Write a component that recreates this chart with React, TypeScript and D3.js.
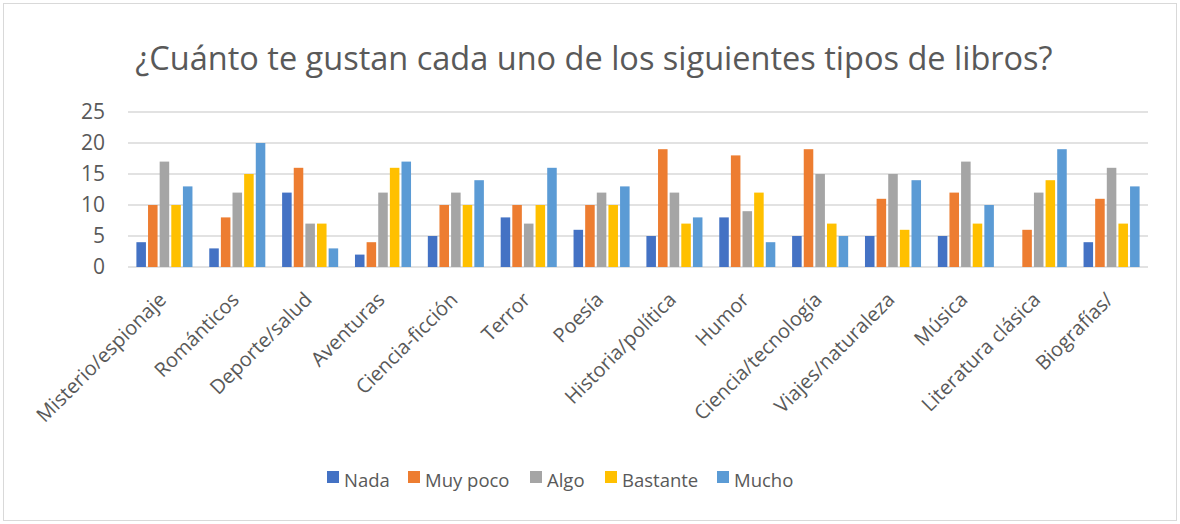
import React from "react";
import * as d3 from "d3";

const categories = [
  "Misterio/espionaje",
  "Románticos",
  "Deporte/salud",
  "Aventuras",
  "Ciencia-ficción",
  "Terror",
  "Poesía",
  "Historia/política",
  "Humor",
  "Ciencia/tecnología",
  "Viajes/naturaleza",
  "Música",
  "Literatura clásica",
  "Biografías/",
];
const seriesNames = ["Nada", "Muy poco", "Algo", "Bastante", "Mucho"];
const nada = [4, 3, 12, 2, 5, 8, 6, 5, 8, 5, 5, 5, 0, 4];
const muyPoco = [10, 8, 16, 4, 10, 10, 10, 19, 18, 19, 11, 12, 6, 11];
const algo = [17, 12, 7, 12, 12, 7, 12, 12, 9, 15, 15, 17, 12, 16];
const bastante = [10, 15, 7, 16, 10, 10, 10, 7, 12, 7, 6, 7, 14, 7];
const mucho = [13, 20, 3, 17, 14, 16, 13, 8, 4, 5, 14, 10, 19, 13];
const yTicks = [0, 5, 10, 15, 20, 25];
const colors = ["#4472C4", "#ED7D31", "#A5A5A5", "#FFC000", "#5B9BD5"];
const title = "¿Cuánto te gustan cada uno de los siguientes tipos de libros?";

const W = 1180;
const H = 524;
const FONT = "'Open Sans', sans-serif";
const TXT = "#595959";

export default function App() {
  const allSeries = [nada, muyPoco, algo, bastante, mucho];
  const x0 = d3.scaleBand<string>().domain(categories).range([128, 1148]).paddingInner(0).paddingOuter(0);
  const x1 = d3
    .scaleBand<string>()
    .domain(seriesNames)
    .range([8.4, x0.bandwidth() - 8.4])
    .paddingInner(0.18)
    .paddingOuter(0);
  const y = d3.scaleLinear().domain([0, 25]).range([267, 112]);

  const legendX = [327, 408, 530, 605, 717];

  return (
    <svg
      width={W}
      height={H}
      style={{ position: "absolute", left: 0, top: 0, background: "#fff" }}
      fontFamily={FONT}
    >
      <rect x={3.5} y={3.5} width={W - 7} height={H - 7} fill="#fff" stroke="#d9d9d9" />
      <text x={594} y={70} textAnchor="middle" fontSize={32.5} fill={TXT}>
        {title}
      </text>
      {yTicks.map((t) => (
        <g key={t}>
          <line x1={128} x2={1148} y1={y(t)} y2={y(t)} stroke="#d9d9d9" strokeWidth={1.3} />
          <text x={105} y={y(t)} dy="0.35em" textAnchor="end" fontSize={21} fill={TXT}>
            {t}
          </text>
        </g>
      ))}
      {categories.map((c, i) => (
        <g key={c} transform={`translate(${x0(c)},0)`}>
          {allSeries.map((s, j) =>
            s[i] > 0 ? (
              <rect
                key={j}
                x={x1(seriesNames[j])}
                y={y(s[i])}
                width={x1.bandwidth()}
                height={y(0) - y(s[i])}
                fill={colors[j]}
              />
            ) : null
          )}
        </g>
      ))}
      {categories.map((c) => {
        const cx = (x0(c) as number) + x0.bandwidth() / 2;
        return (
          <text
            key={c}
            transform={`translate(${cx - 2},${296}) rotate(-45)`}
            textAnchor="end"
            dy="0.35em"
            fontSize={20}
            fill={TXT}
          >
            {c}
          </text>
        );
      })}
      {seriesNames.map((n, j) => (
        <g key={n}>
          <rect x={legendX[j]} y={471} width={12} height={12} fill={colors[j]} />
          <text x={legendX[j] + 17} y={487} fontSize={18.5} fill={TXT}>
            {n}
          </text>
        </g>
      ))}
    </svg>
  );
}
